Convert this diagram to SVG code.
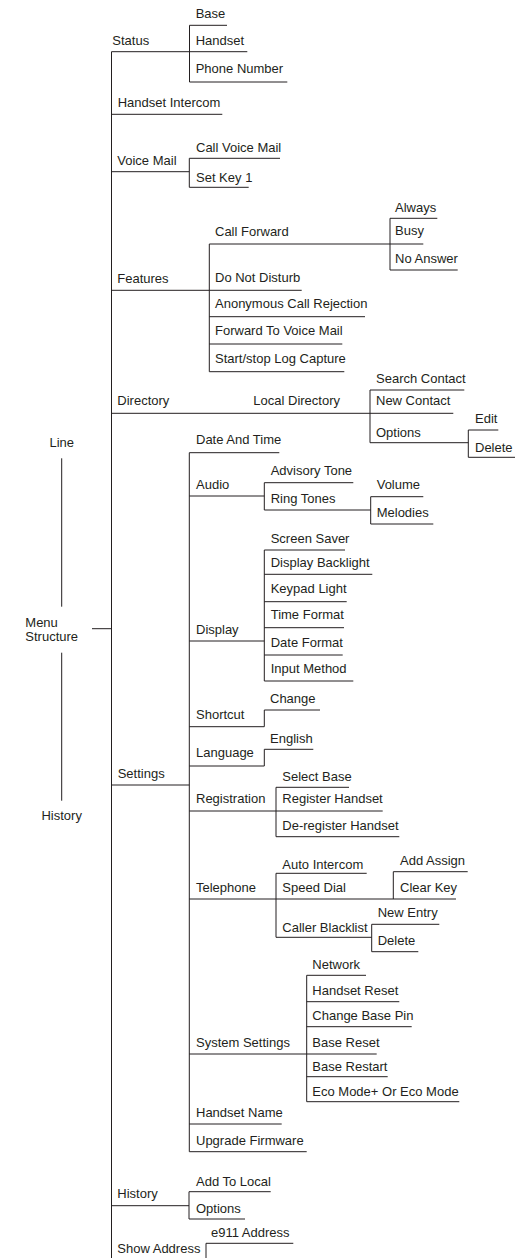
<svg xmlns="http://www.w3.org/2000/svg" width="525" height="1258" viewBox="0 0 525 1258">
<style>
text{font-family:"Liberation Sans",Arial,sans-serif;font-size:13px;fill:#231f20}
.c path{fill:none;stroke:#231f20;stroke-width:1}
.m{text-anchor:middle}
</style>
<rect width="525" height="1258" fill="#ffffff"/>
<g class="c" id="connectors">
<path d="M111.5 51.7V1258M92 628.7H111.5M61.7 458.3V606.7M61.7 652.7V800.7"/>
<path d="M111.5 51.7H247.3M189.5 25.3V82M189.5 25.3H227M189.5 82H287.3"/>
<path d="M111.5 114.3H222.3"/>
<path d="M111.5 171.7H189.3M189.3 158.3V187.3M189.3 158.3H280M189.3 187.3H248.7"/>
<path d="M111.5 290.3H209.3M209.3 244V371.7M209.3 244H390M390 218.3V270M390 218.3H437.3M390 244H423.3M390 270H457.7M209.3 290.3H301.7M209.3 316.7H365M209.3 344H342.3M209.3 371.7H344.3"/>
<path d="M111.5 413.3H453.3M370 390V442.7M370 390H464.3M370 442.7H468.3M468.3 430V457.3M468.3 430H498.3M468.3 457.3H515"/>
<path d="M111.5 785H189.3M189.3 452.7V1151.7M189.3 452.7H279.3"/>
<path d="M189.3 496H264.3M264.3 482.7V510M264.3 482.7H353.3M264.3 510H370.7M370.7 496.7V524M370.7 496.7H423.3M370.7 524H433.3"/>
<path d="M189.3 641H264.3M264.3 550V681M264.3 550H345M264.3 574.3H372.3M264.3 601.7H346.7M264.3 627.7H344M264.3 655H342.7M264.3 681H353.3"/>
<path d="M189.3 726.7H264.3V710H320"/>
<path d="M189.3 766H264.3V749.3H313.3"/>
<path d="M189.3 811H382.7M276 787.3V836.7M276 787.3H349M276 836.7H399.3"/>
<path d="M189.3 899H456M276 873.3V937.3M276 873.3H366.7M393.3 871.7V899M393.3 871.7H467.7M276 937.3H371.7M371.7 924.3V951.7M371.7 924.3H439.3M371.7 951.7H418.3"/>
<path d="M189.3 1054H376.7M306.7 975.3V1101.7M306.7 975.3H366M306.7 1001.7H399.3M306.7 1026.7H411.7M306.7 1076.7H387.7M306.7 1101.7H459.3"/>
<path d="M189.3 1124H281.7M189.3 1151.7H306.7"/>
<path d="M111.5 1205.7H189M189 1191.7V1219M189 1191.7H270.7M189 1219H245"/>
<path d="M206 1258V1243.3H293.3"/>
</g>
<g id="menu-structure"><text x="25.3" y="626.7">Menu</text><text x="25.3" y="640.7">Structure</text></g>
<g id="line-label"><text class="m" x="61.7" y="446.7">Line</text></g>
<g id="history-label"><text class="m" x="61.7" y="820">History</text></g>
<g id="status"><text x="112.3" y="45">Status</text></g>
<g id="status-base"><text x="195.7" y="18.3">Base</text></g>
<g id="status-handset"><text x="195.7" y="45">Handset</text></g>
<g id="status-phone-number"><text x="195.7" y="73.3">Phone Number</text></g>
<g id="handset-intercom"><text x="117.7" y="107.3">Handset Intercom</text></g>
<g id="voice-mail"><text x="117.3" y="165">Voice Mail</text></g>
<g id="call-voice-mail"><text x="196" y="151.7">Call Voice Mail</text></g>
<g id="set-key-1"><text x="196" y="181.7">Set Key 1</text></g>
<g id="features"><text x="117.3" y="283.3">Features</text></g>
<g id="call-forward"><text x="215" y="236">Call Forward</text></g>
<g id="always"><text x="395" y="211.7">Always</text></g>
<g id="busy"><text x="395" y="235">Busy</text></g>
<g id="no-answer"><text x="395" y="262.7">No Answer</text></g>
<g id="do-not-disturb"><text x="215" y="281.7">Do Not Disturb</text></g>
<g id="anonymous-call-rejection"><text x="215" y="308.3">Anonymous Call Rejection</text></g>
<g id="forward-to-voice-mail"><text x="215" y="335">Forward To Voice Mail</text></g>
<g id="start-stop-log-capture"><text x="215" y="363.3">Start/stop Log Capture</text></g>
<g id="directory"><text x="117.3" y="405">Directory</text></g>
<g id="local-directory"><text x="253.3" y="405">Local Directory</text></g>
<g id="search-contact"><text x="376" y="382.7">Search Contact</text></g>
<g id="new-contact"><text x="376" y="405">New Contact</text></g>
<g id="dir-options"><text x="376" y="436.7">Options</text></g>
<g id="edit"><text x="475" y="423.3">Edit</text></g>
<g id="dir-delete"><text x="475" y="451.7">Delete</text></g>
<g id="settings"><text x="117.7" y="778.3">Settings</text></g>
<g id="date-and-time"><text x="196" y="444">Date And Time</text></g>
<g id="audio"><text x="196" y="489.3">Audio</text></g>
<g id="advisory-tone"><text x="270.7" y="475">Advisory Tone</text></g>
<g id="ring-tones"><text x="270.7" y="503.3">Ring Tones</text></g>
<g id="volume"><text x="376.7" y="489.3">Volume</text></g>
<g id="melodies"><text x="376.7" y="516.7">Melodies</text></g>
<g id="display"><text x="196" y="634.3">Display</text></g>
<g id="screen-saver"><text x="270.7" y="542.7">Screen Saver</text></g>
<g id="display-backlight"><text x="270.7" y="566.7">Display Backlight</text></g>
<g id="keypad-light"><text x="270.7" y="593.3">Keypad Light</text></g>
<g id="time-format"><text x="270.7" y="619.3">Time Format</text></g>
<g id="date-format"><text x="270.7" y="646.7">Date Format</text></g>
<g id="input-method"><text x="270.7" y="673.3">Input Method</text></g>
<g id="shortcut"><text x="196" y="719.3">Shortcut</text></g>
<g id="change"><text x="270" y="703.3">Change</text></g>
<g id="language"><text x="196" y="756.7">Language</text></g>
<g id="english"><text x="270" y="742.7">English</text></g>
<g id="registration"><text x="196" y="803.3">Registration</text></g>
<g id="select-base"><text x="282.3" y="780.7">Select Base</text></g>
<g id="register-handset"><text x="282.3" y="803.3">Register Handset</text></g>
<g id="de-register-handset"><text x="282.3" y="830">De-register Handset</text></g>
<g id="telephone"><text x="196" y="891.7">Telephone</text></g>
<g id="auto-intercom"><text x="282.3" y="869.3">Auto Intercom</text></g>
<g id="speed-dial"><text x="282.3" y="892.3">Speed Dial</text></g>
<g id="add-assign"><text x="400" y="865">Add Assign</text></g>
<g id="clear-key"><text x="400" y="892.3">Clear Key</text></g>
<g id="caller-blacklist"><text x="282.3" y="931.7">Caller Blacklist</text></g>
<g id="new-entry"><text x="377.7" y="917.3">New Entry</text></g>
<g id="blacklist-delete"><text x="377.7" y="945">Delete</text></g>
<g id="system-settings"><text x="196" y="1046.7">System Settings</text></g>
<g id="network"><text x="312.3" y="969.3">Network</text></g>
<g id="handset-reset"><text x="312.3" y="995">Handset Reset</text></g>
<g id="change-base-pin"><text x="312.3" y="1020">Change Base Pin</text></g>
<g id="base-reset"><text x="312.3" y="1046.7">Base Reset</text></g>
<g id="base-restart"><text x="312.3" y="1070.7">Base Restart</text></g>
<g id="eco-mode"><text x="312.3" y="1096">Eco Mode+ Or Eco Mode</text></g>
<g id="handset-name"><text x="196" y="1116.7">Handset Name</text></g>
<g id="upgrade-firmware"><text x="196" y="1145">Upgrade Firmware</text></g>
<g id="history"><text x="117.3" y="1197.7">History</text></g>
<g id="add-to-local"><text x="196" y="1186">Add To Local</text></g>
<g id="history-options"><text x="196" y="1212.7">Options</text></g>
<g id="show-address"><text x="117.3" y="1253.3">Show Address</text></g>
<g id="e911-address"><text x="211" y="1236.7">e911 Address</text></g>
</svg>
